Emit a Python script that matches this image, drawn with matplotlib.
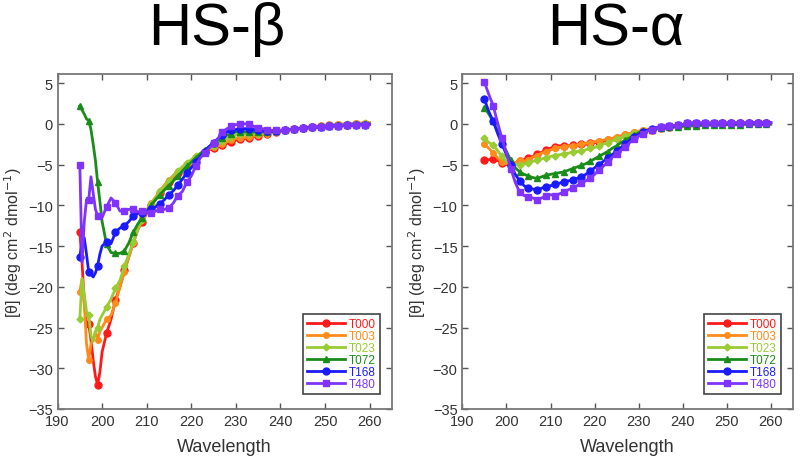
import numpy as np
import matplotlib
matplotlib.use('Agg')
import matplotlib.pyplot as plt

plt.rcParams['font.family'] = ['Liberation Sans', 'DejaVu Sans']

labels = ['T000', 'T003', 'T023', 'T072', 'T168', 'T480']
colors = ['#ff1a1a', '#ff8c1a', '#99cc33', '#1a8c1a', '#1a1aff', '#8033ff']
markers = ['o', 'o', 'D', '^', 'o', 's']
msizes = [5, 4, 3.5, 5, 5, 5]

# HS-beta: half-nm steps up to 200, then 1 nm
wl_beta = [195, 195.5, 196, 196.5, 197, 197.5, 198, 198.5, 199, 199.5, 200] + list(range(201, 261))

beta_t000 = [-13.3, -17.0, -22.0, -24.5, -24.6, -26.5, -29.0, -31.0, -32.0, -30.5, -28.0,
             -25.7, -24.0, -21.6, -20.0, -18.0, -16.3, -14.6, -13.0, -12.0, -11.0,
             -10.0, -9.3, -8.5, -7.8, -7.2, -6.6, -6.0, -5.5, -5.0, -4.6,
             -4.2, -3.8, -3.5, -3.2, -3.0, -2.8, -2.6, -2.4, -2.2, -2.0,
             -1.9, -1.8, -1.7, -1.6, -1.45, -1.3, -1.2, -1.1, -1.0, -0.9,
             -0.8, -0.7, -0.65, -0.6, -0.5, -0.45, -0.4, -0.35, -0.3, -0.25,
             -0.2, -0.18, -0.15, -0.12, -0.1, -0.08, -0.05, -0.03, 0.0, 0.0]
beta_t003 = [-20.6, -19.0, -22.0, -27.0, -29.0, -27.0, -26.5, -25.5, -26.5, -25.5, -25.0,
             -24.0, -23.5, -22.0, -20.0, -18.2, -16.3, -14.6, -12.8, -11.6, -10.6,
             -9.7, -9.0, -8.2, -7.5, -6.9, -6.3, -5.8, -5.3, -4.9, -4.5,
             -4.1, -3.7, -3.4, -3.1, -2.9, -2.7, -2.5, -2.2, -2.0, -1.8,
             -1.7, -1.7, -1.6, -1.5, -1.4, -1.3, -1.2, -1.1, -1.0, -0.9,
             -0.8, -0.7, -0.6, -0.55, -0.5, -0.4, -0.35, -0.3, -0.25, -0.2,
             -0.15, -0.1, -0.05, 0.0, 0.0, 0.05, 0.1, 0.1, 0.15, 0.15]
beta_t023 = [-24.0, -19.0, -21.0, -23.0, -23.5, -26.0, -26.7, -25.5, -25.0, -24.0, -23.5,
             -22.5, -21.5, -20.2, -19.2, -17.5, -16.0, -14.5, -13.0, -11.8, -10.8,
             -9.9, -9.1, -8.3, -7.6, -7.0, -6.4, -5.8, -5.3, -4.8, -4.4,
             -4.0, -3.6, -3.3, -3.0, -2.7, -2.4, -2.1, -1.8, -1.6, -1.4,
             -1.3, -1.3, -1.3, -1.2, -1.2, -1.1, -1.0, -1.0, -0.9, -0.9,
             -0.8, -0.7, -0.65, -0.6, -0.5, -0.45, -0.4, -0.35, -0.3, -0.25,
             -0.2, -0.15, -0.1, -0.1, -0.05, 0.0, 0.0, 0.05, 0.05, 0.05]
beta_t072 = [2.2, 1.7, 1.2, 0.6, 0.4, -0.7, -2.5, -4.5, -7.2, -9.5, -12.0,
             -14.8, -15.8, -15.9, -15.9, -15.6, -14.6, -13.3, -12.3, -11.5, -10.7,
             -10.0, -9.3, -8.7, -8.1, -7.6, -7.0, -6.4, -5.8, -5.2, -4.7,
             -4.2, -3.7, -3.2, -2.8, -2.4, -2.0, -1.7, -1.4, -1.2, -1.0,
             -1.0, -1.0, -1.0, -1.0, -1.0, -1.0, -0.95, -0.9, -0.9, -0.85,
             -0.8, -0.7, -0.65, -0.6, -0.55, -0.5, -0.45, -0.4, -0.35, -0.3,
             -0.25, -0.2, -0.2, -0.15, -0.1, -0.1, -0.05, -0.05, 0.0, 0.0]
beta_t168 = [-16.3, -14.5, -14.0, -16.0, -18.2, -18.5, -18.8, -18.3, -17.4, -16.0, -15.0,
             -14.5, -14.7, -13.3, -12.8, -12.5, -12.0, -11.3, -11.0, -10.9, -10.8,
             -10.5, -10.2, -9.8, -9.3, -8.7, -8.2, -7.5, -6.8, -6.0, -5.4,
             -4.7, -4.0, -3.4, -2.8, -2.3, -1.8, -1.4, -1.0, -0.8, -0.7,
             -0.6, -0.6, -0.6, -0.7, -0.8, -0.8, -0.85, -0.85, -0.85, -0.8,
             -0.75, -0.7, -0.65, -0.6, -0.55, -0.5, -0.45, -0.4, -0.35, -0.3,
             -0.3, -0.25, -0.25, -0.2, -0.2, -0.15, -0.15, -0.1, -0.1, -0.1]
beta_t480 = [-5.0, -17.0, -12.0, -9.3, -9.3, -6.5, -8.5, -10.5, -11.3, -11.5, -11.5,
             -10.2, -9.1, -9.7, -10.7, -10.7, -10.5, -10.4, -10.8, -10.7, -10.8,
             -11.0, -10.7, -10.5, -10.5, -10.3, -9.7, -8.8, -8.3, -7.2, -6.4,
             -5.2, -4.2, -3.6, -3.0, -2.4, -1.8, -1.0, -0.6, -0.3, -0.1,
             0.0, 0.0, 0.0, -0.3, -0.5, -0.6, -0.7, -0.8, -0.8, -0.8,
             -0.75, -0.7, -0.65, -0.6, -0.55, -0.5, -0.45, -0.4, -0.35, -0.3,
             -0.3, -0.25, -0.25, -0.2, -0.2, -0.15, -0.15, -0.1, -0.1, -0.1]

# HS-alpha: 1 nm steps
wl_alpha = list(range(195, 261))

alpha_t000 = [-4.5, -4.4, -4.3, -4.5, -4.8, -5.0, -5.0, -4.8, -4.6, -4.4,
              -4.2, -4.0, -3.7, -3.5, -3.2, -3.0, -2.8, -2.7, -2.7, -2.7,
              -2.6, -2.6, -2.5, -2.5, -2.4, -2.3, -2.2, -2.1, -2.0, -1.8,
              -1.7, -1.5, -1.4, -1.2, -1.1, -1.0, -0.9, -0.8, -0.7, -0.6,
              -0.5, -0.45, -0.4, -0.35, -0.3, -0.25, -0.2, -0.15, -0.1, -0.1,
              -0.05, 0.0, 0.0, 0.0, 0.05, 0.05, 0.05, 0.05, 0.1, 0.1,
              0.1, 0.1, 0.1, 0.1, 0.1, 0.1]
alpha_t003 = [-2.5, -3.0, -3.6, -4.2, -4.7, -4.9, -5.0, -4.8, -4.5, -4.6,
              -4.4, -4.1, -3.9, -3.6, -3.4, -3.2, -3.0, -2.9, -2.8, -2.7,
              -2.7, -2.6, -2.5, -2.4, -2.3, -2.2, -2.1, -2.0, -1.9, -1.8,
              -1.6, -1.5, -1.3, -1.2, -1.0, -0.9, -0.8, -0.7, -0.6, -0.5,
              -0.45, -0.4, -0.35, -0.3, -0.25, -0.2, -0.15, -0.1, -0.1, -0.05,
              0.0, 0.0, 0.0, 0.05, 0.05, 0.05, 0.1, 0.1, 0.1, 0.1,
              0.1, 0.1, 0.1, 0.1, 0.1, 0.1]
alpha_t023 = [-1.8, -2.3, -2.6, -3.3, -4.0, -4.6, -4.8, -5.0, -5.0, -4.9,
              -4.8, -4.6, -4.5, -4.3, -4.2, -4.0, -3.9, -3.8, -3.7, -3.6,
              -3.5, -3.4, -3.3, -3.2, -3.0, -2.9, -2.7, -2.5, -2.3, -2.1,
              -1.9, -1.7, -1.5, -1.3, -1.1, -1.0, -0.9, -0.8, -0.7, -0.6,
              -0.5, -0.45, -0.4, -0.35, -0.3, -0.25, -0.2, -0.15, -0.1, -0.1,
              -0.05, 0.0, 0.0, 0.0, 0.05, 0.05, 0.05, 0.05, 0.1, 0.1,
              0.1, 0.1, 0.1, 0.1, 0.1, 0.1]
alpha_t072 = [2.0, 1.2, 0.3, -0.9, -2.2, -3.4, -4.5, -5.4, -5.9, -6.2,
              -6.4, -6.6, -6.7, -6.5, -6.3, -6.2, -6.1, -6.0, -5.9, -5.7,
              -5.5, -5.3, -5.1, -4.9, -4.6, -4.3, -4.0, -3.7, -3.4, -3.0,
              -2.7, -2.3, -2.0, -1.7, -1.4, -1.1, -0.9, -0.8, -0.7, -0.6,
              -0.5, -0.5, -0.45, -0.4, -0.35, -0.3, -0.3, -0.25, -0.25, -0.2,
              -0.2, -0.15, -0.15, -0.15, -0.1, -0.1, -0.1, -0.1, -0.1, -0.05,
              -0.05, -0.05, -0.05, -0.05, -0.05, -0.05]
alpha_t168 = [3.0, 1.5, 0.3, -1.2, -2.5, -3.8, -5.0, -6.2, -7.0, -7.6,
              -7.9, -8.0, -8.1, -7.9, -7.7, -7.6, -7.4, -7.3, -7.1, -7.0,
              -6.9, -6.7, -6.5, -6.2, -5.8, -5.4, -5.0, -4.6, -4.2, -3.8,
              -3.3, -2.9, -2.5, -2.0, -1.6, -1.3, -1.0, -0.8, -0.6, -0.45,
              -0.35, -0.3, -0.25, -0.2, -0.15, -0.1, 0.05, 0.1, 0.1, 0.1,
              0.1, 0.1, 0.1, 0.1, 0.1, 0.1, 0.1, 0.1, 0.1, 0.1,
              0.1, 0.15, 0.15, 0.15, 0.15, 0.15]
alpha_t480 = [5.1, 3.6, 2.2, 0.1, -1.8, -3.6, -5.5, -7.2, -8.4, -8.8,
              -9.0, -9.1, -9.3, -9.1, -8.8, -8.7, -8.8, -8.6, -8.4, -8.1,
              -7.9, -7.6, -7.3, -7.0, -6.7, -6.2, -5.7, -5.2, -4.7, -4.1,
              -3.7, -3.2, -2.8, -2.3, -1.9, -1.5, -1.2, -0.9, -0.7, -0.5,
              -0.4, -0.3, -0.25, -0.2, -0.15, -0.1, 0.05, 0.1, 0.1, 0.1,
              0.1, 0.1, 0.1, 0.1, 0.1, 0.1, 0.1, 0.1, 0.1, 0.1,
              0.1, 0.15, 0.15, 0.15, 0.15, 0.15]

beta_series = [beta_t000, beta_t003, beta_t023, beta_t072, beta_t168, beta_t480]
alpha_series = [alpha_t000, alpha_t003, alpha_t023, alpha_t072, alpha_t168, alpha_t480]

fig = plt.figure(figsize=(8, 4.6), dpi=100)
ax1 = fig.add_axes([0.0719, 0.1087, 0.418, 0.728])
ax2 = fig.add_axes([0.578, 0.1087, 0.413, 0.728])


def draw_panel(ax, wl, series):
    wl = np.array(wl)
    # markers on odd wavelengths only (every 2 nm)
    mark = [i for i, w in enumerate(wl) if w == int(w) and int(w) % 2 == 1]
    for ys, lab, c, m, ms in zip(series, labels, colors, markers, msizes):
        ax.plot(wl, ys, color=c, lw=2.0, marker=m, ms=ms, markevery=mark,
                label=lab)
    ax.set_xlim(190, 265)
    ax.set_ylim(-35, 6.1)
    ax.set_xticks(range(190, 261, 10))
    ax.set_yticks(range(-35, 6, 5))
    ax.tick_params(direction='in', top=True, right=True, length=4,
                   width=1, color='#555555', labelsize=10.5,
                   labelcolor='#333333')
    for sp in ax.spines.values():
        sp.set_color('#777777')
        sp.set_linewidth(1.3)
    ax.set_xlabel('Wavelength', fontsize=13, color='#333333', labelpad=7)
    ax.set_ylabel(r'[θ] (deg cm$^2$ dmol$^{-1}$)', fontsize=11.5,
                  color='#333333', labelpad=3)
    leg = ax.legend(loc='lower right', bbox_to_anchor=(0.964, 0.045),
                    borderaxespad=0, fontsize=8.5, handlelength=3.2,
                    labelspacing=0.0, handletextpad=0.3, borderpad=0.35,
                    fancybox=False, framealpha=1)
    leg.get_frame().set_edgecolor('#444444')
    leg.get_frame().set_linewidth(1.2)
    for txt, c in zip(leg.get_texts(), colors):
        txt.set_color(c)


draw_panel(ax1, wl_beta, beta_series)
draw_panel(ax2, wl_alpha, alpha_series)

fig.text(0.271, 0.902, 'HS-β', fontsize=43, ha='center', va='baseline')
fig.text(0.77, 0.902, 'HS-α', fontsize=43, ha='center', va='baseline')

fig.savefig('out.png', dpi=100)
